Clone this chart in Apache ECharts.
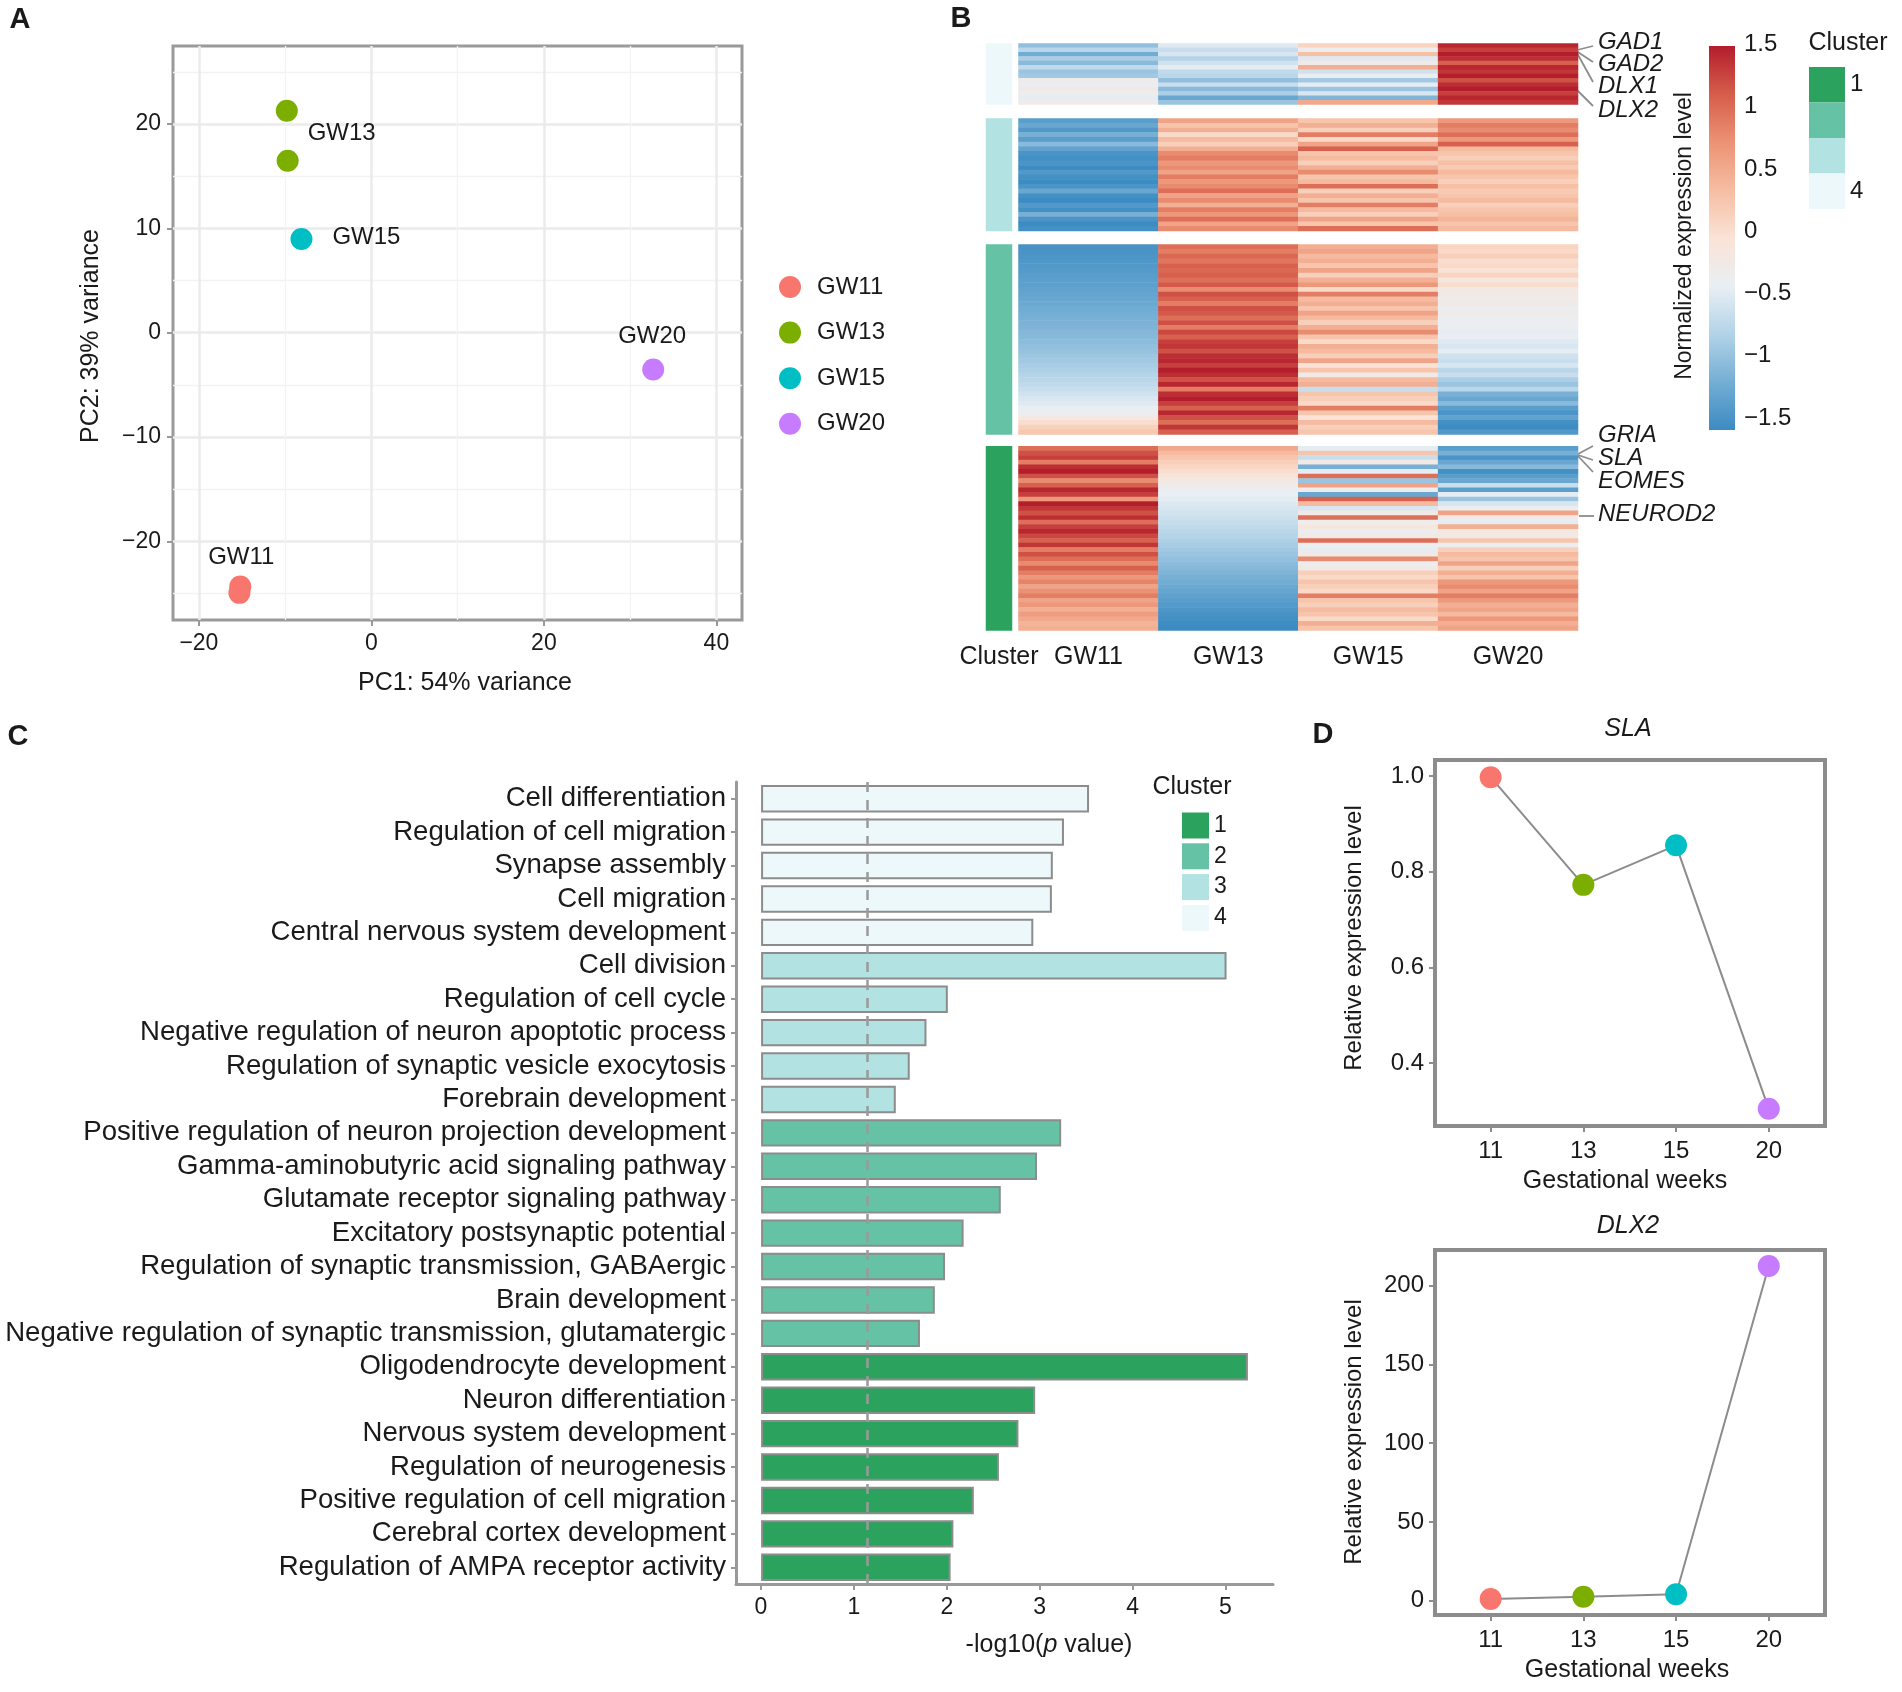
<!DOCTYPE html>
<html><head><meta charset="utf-8">
<script src="https://cdn.jsdelivr.net/npm/echarts@6/dist/echarts.min.js"></script>
<style>html,body{margin:0;padding:0;background:#fff}#chart{width:1902px;height:1692px}</style>
</head><body><div id="chart"></div>
<script>
// ================= DATA =================
const groups = ['GW11', 'GW13', 'GW15', 'GW20'];
const groupColors = ['#F8766D', '#7CAE00', '#00BFC4', '#C77CFF'];
const clusterNames = ['1', '2', '3', '4'];
const clusterColors = ['#2CA25F', '#66C2A4', '#B2E2E2', '#EDF8FB'];

// Panel A: PCA (PC1, PC2)
const pcaGW11 = [[-15.2, -24.3], [-15.3, -24.9]];
const pcaGW13 = [[-9.8, 21.3], [-9.7, 16.5]];
const pcaGW15 = [[-8.1, 9.0]];
const pcaGW20 = [[32.7, -3.5]];

// Panel B: heatmap, normalized expression (rows top->bottom) per cluster block
const c4_GW11 = [-0.95, -0.7, -1.15, -0.8, -1.0, -0.65, -0.9, -0.85, -0.25, -0.35, -0.2, -0.3, -0.4, -0.25];
const c4_GW13 = [-0.45, -0.6, -0.5, -0.75, -0.55, -0.4, -0.65, -0.7, -0.95, -0.6, -1.0, -0.8, -1.2, -0.9];
const c4_GW15 = [0.15, -0.3, 0.35, -0.45, -0.2, 0.5, -0.55, -0.3, -0.85, -0.4, -0.9, -0.5, -1.05, 0.55];
const c4_GW20 = [1.45, 1.3, 1.5, 1.4, 1.1, 1.45, 1.35, 1.5, 1.2, 1.4, 1.5, 1.3, 1.45, 1.35];

const c3_GW11 = [-1.3, -1.2, -1.35, -1.1, -1.3, -1.0, -1.25, -1.4, -1.45, -1.4, -1.5, -1.35, -1.45, -1.5, -1.4, -1.2, -1.45, -1.5, -1.35, -1.45, -1.1, -1.4, -1.5, -1.45];
const c3_GW13 = [0.6, 0.3, 0.5, 0.1, 0.4, 0.2, 0.5, 0.8, 0.9, 0.7, 0.8, 0.6, 0.9, 0.7, 0.8, 1.0, 0.6, 0.8, 0.5, 0.9, 0.7, 1.0, 0.6, 0.8];
const c3_GW15 = [0.3, 0.5, 0.2, 0.9, 0.1, 0.6, 1.1, 0.3, 0.4, 0.2, 0.5, 0.8, 0.3, 0.4, 1.0, 0.2, 0.5, 0.3, 0.9, 0.4, 0.2, 0.6, 0.3, 1.0];
const c3_GW20 = [0.7, 0.9, 0.8, 1.0, 0.7, 1.1, 0.4, 0.3, 0.2, 0.35, 0.25, 0.4, 0.3, 0.2, 0.35, 0.25, 0.3, 0.4, 0.2, 0.3, 0.35, 0.45, 0.3, 0.4];

const c2_GW11 = [-1.42, -1.41, -1.39, -1.37, -1.35, -1.33, -1.31, -1.29, -1.27, -1.25, -1.23, -1.2, -1.18, -1.15, -1.13, -1.11, -1.08, -1.06, -1.03, -1.01, -0.98, -0.95, -0.92, -0.88, -0.85, -0.81, -0.78, -0.74, -0.7, -0.65, -0.6, -0.55, -0.5, -0.45, -0.38, -0.3, -0.15, 0.05, 0.18, 0.28];
const c2_GW13 = [1.0, 0.9, 1.05, 0.95, 1.1, 1.05, 1.1, 1.0, 1.15, 0.8, 1.2, 1.1, 0.9, 1.2, 1.15, 1.0, 1.2, 0.9, 1.25, 1.1, 1.3, 1.35, 1.2, 1.4, 1.45, 1.3, 1.5, 1.4, 1.2, 1.45, 0.9, 1.4, 1.5, 1.3, 1.1, 1.45, 1.2, 1.0, 1.35, 1.1];
const c2_GW15 = [0.5, 0.6, 0.4, 0.5, 0.3, 0.6, 0.2, 0.5, 0.7, 0.1, 0.9, 0.4, 0.5, 0.3, 0.6, 0.4, 0.2, 0.5, 0.8, 0.3, 0.1, 0.5, 0.4, 0.2, 0.6, 0.0, 0.3, -0.2, 0.4, 0.5, -0.6, 0.3, 0.2, 0.1, 0.9, 0.3, 0.0, 0.4, 0.2, 0.3];
const c2_GW20 = [0.15, 0.1, 0.2, 0.05, 0.1, 0.0, 0.15, -0.1, 0.05, -0.2, -0.15, -0.25, -0.2, -0.3, -0.25, -0.3, -0.35, -0.3, -0.4, -0.35, -0.45, -0.5, -0.4, -0.55, -0.6, -0.5, -0.7, -0.6, -0.8, -0.9, -0.7, -1.1, -1.2, -1.0, -1.3, -1.4, -1.25, -1.45, -1.5, -1.35];

const c1_GW11 = [1.0, 1.2, 1.3, 0.9, 1.4, 1.5, 1.2, 0.8, 1.1, 1.45, 1.3, 0.7, 1.5, 1.35, 1.2, 1.4, 1.0, 1.3, 1.45, 1.25, 1.1, 1.35, 0.9, 1.2, 1.0, 0.8, 1.1, 0.9, 0.7, 0.85, 0.6, 0.75, 0.9, 0.6, 0.7, 0.5, 0.65, 0.55, 0.45, 0.5];
const c1_GW13 = [0.55, 0.4, 0.3, 0.2, 0.12, 0.05, -0.05, -0.15, -0.25, -0.32, -0.37, -0.42, -0.46, -0.5, -0.54, -0.58, -0.62, -0.66, -0.7, -0.74, -0.78, -0.82, -0.86, -0.9, -0.94, -0.98, -1.02, -1.06, -1.1, -1.14, -1.18, -1.22, -1.26, -1.3, -1.34, -1.38, -1.42, -1.45, -1.48, -1.5];
const c1_GW15 = [-0.4, 0.3, -0.6, -0.2, -1.1, -0.4, 1.0, -0.9, 0.6, -0.3, -1.2, 1.1, 0.4, -0.5, -0.2, 1.0, -0.3, -0.1, -0.3, -0.2, 1.0, -0.3, -0.4, -0.2, 0.8, -0.3, -0.2, 0.2, 0.1, 0.3, 0.2, 0.1, 0.9, 0.3, 0.2, 0.4, 0.3, 0.1, 0.5, 0.3];
const c1_GW20 = [-1.3, -1.1, -1.4, -1.2, -1.0, -1.45, -1.3, -1.2, -0.6, -1.3, -0.4, -0.9, -0.5, -0.3, 0.6, -0.2, -0.4, 0.5, -0.1, -0.2, 0.3, -0.3, 0.2, 0.4, 0.3, 0.6, 0.2, 0.5, 0.3, 0.7, 0.8, 0.6, 0.9, 0.7, 0.5, 0.6, 0.4, 0.7, 0.5, 0.6];

const heatColors = ['#3C8BC2', '#74AED4', '#B3D3E8', '#E9EFF4', '#FAE3D6', '#F6BDA2', '#EC9274', '#D65D4B', '#B31D2C']; // -1.5 .. 1.5
const geneLabelsTop = ['GAD1', 'GAD2', 'DLX1', 'DLX2'];
const geneLabelsBottom = ['GRIA', 'SLA', 'EOMES', 'NEUROD2'];

// Panel C: GO enrichment
const goTerms = ['Cell differentiation', 'Regulation of cell migration', 'Synapse assembly', 'Cell migration', 'Central nervous system development',
  'Cell division', 'Regulation of cell cycle', 'Negative regulation of neuron apoptotic process', 'Regulation of synaptic vesicle exocytosis', 'Forebrain development',
  'Positive regulation of neuron projection development', 'Gamma-aminobutyric acid signaling pathway', 'Glutamate receptor signaling pathway', 'Excitatory postsynaptic potential', 'Regulation of synaptic transmission, GABAergic', 'Brain development', 'Negative regulation of synaptic transmission, glutamatergic',
  'Oligodendrocyte development', 'Neuron differentiation', 'Nervous system development', 'Regulation of neurogenesis', 'Positive regulation of cell migration', 'Cerebral cortex development', 'Regulation of AMPA receptor activity'];
const goValues = [3.53, 3.26, 3.14, 3.13, 2.93, 5.01, 2.01, 1.78, 1.60, 1.45, 3.23, 2.97, 2.58, 2.18, 1.98, 1.87, 1.71, 5.24, 2.95, 2.77, 2.56, 2.29, 2.07, 2.04];
const goCluster = [4, 4, 4, 4, 4, 3, 3, 3, 3, 3, 2, 2, 2, 2, 2, 2, 2, 1, 1, 1, 1, 1, 1, 1];
const thresholdLine = 1.14;

// Panel D
const weekLabels = ['11', '13', '15', '20'];
const slaValues = [1.0, 0.774, 0.857, 0.304];
const dlx2Values = [1.1, 2.5, 4.1, 212.5];

// ================= BUILD =================
const FONT = "'Liberation Sans', Arial, Helvetica, sans-serif";
const TXT = '#1a1a1a';
const GREY = '#999999';
const minusFmt = v => (v < 0 ? '\u2212' : '') + Math.abs(v);

const grids = [], xAxes = [], yAxes = [], series = [];
function addGrid(rect, xa, ya) {
  const i = grids.length;
  grids.push(Object.assign({ show: false }, rect));
  xAxes.push(Object.assign({ gridIndex: i }, xa));
  yAxes.push(Object.assign({ gridIndex: i }, ya));
  return i;
}
const hid = () => ({ type: 'value', min: 0, max: 1, show: false });

// ---------- Panel A ----------
const gA = addGrid({ left: 173, top: 46, width: 569, height: 574, show: true, borderColor: '#9a9a9a', borderWidth: 3, backgroundColor: 'transparent' },
  { type: 'value', min: -23, max: 43, show: false }, { type: 'value', min: -27.5, max: 27.5, show: false });
addGrid({ left: 198.9, top: 46, width: 517.5, height: 574 },
  { type: 'value', min: -20, max: 40, interval: 20, position: 'bottom',
    axisLine: { show: false, onZero: false }, axisTick: { show: true, length: 6, lineStyle: { color: GREY, width: 2 } },
    axisLabel: { fontSize: 23, color: TXT, margin: 12, formatter: minusFmt },
    splitLine: { show: true, lineStyle: { color: '#EBEBEB', width: 2.5 } },
    minorTick: { show: false, splitNumber: 2 },
    minorSplitLine: { show: true, lineStyle: { color: '#F3F3F3', width: 1.3 } } }, hid());
addGrid({ left: 173, top: 71.9, width: 569, height: 521.6 }, hid(),
  { type: 'value', min: -25, max: 25, interval: 50, axisLine: { show: false, onZero: false }, axisTick: { show: false }, axisLabel: { show: false },
    splitLine: { show: true, lineStyle: { color: '#F3F3F3', width: 1.3 } } });
addGrid({ left: 173, top: 124, width: 569, height: 417.3 }, hid(),
  { type: 'value', min: -20, max: 20, interval: 10,
    axisLine: { show: false, onZero: false }, axisTick: { show: true, length: 6, lineStyle: { color: GREY, width: 2 } },
    axisLabel: { fontSize: 23, color: TXT, margin: 12, formatter: minusFmt },
    splitLine: { show: true, lineStyle: { color: '#EBEBEB', width: 2.5 } },
    minorTick: { show: false, splitNumber: 2 },
    minorSplitLine: { show: true, lineStyle: { color: '#F3F3F3', width: 1.3 } } });

const pcaSets = [pcaGW11, pcaGW13, pcaGW15, pcaGW20];
const pcaLabelIdx = [0, 1, 0, 0];
const pcaLabelOff = [[1, -29], [54, -27], [65, -2], [-1, -33]];
pcaSets.forEach((set, k) => {
  series.push({
    type: 'scatter', name: groups[k], xAxisIndex: gA, yAxisIndex: gA, symbolSize: 22,
    itemStyle: { color: groupColors[k], opacity: 1 },
    data: set.map((p, j) => ({
      value: p,
      label: j === pcaLabelIdx[k] ? { show: true, position: 'inside', offset: pcaLabelOff[k], formatter: groups[k], fontSize: 24, color: TXT } : { show: false }
    }))
  });
});

// ---------- Panel B ----------
const heatBlocks = [
  { cluster: 4, cols: [c4_GW11, c4_GW13, c4_GW15, c4_GW20], top: 43.5, h: 61 },
  { cluster: 3, cols: [c3_GW11, c3_GW13, c3_GW15, c3_GW20], top: 118.5, h: 112.5 },
  { cluster: 2, cols: [c2_GW11, c2_GW13, c2_GW15, c2_GW20], top: 244.5, h: 190 },
  { cluster: 1, cols: [c1_GW11, c1_GW13, c1_GW15, c1_GW20], top: 446.3, h: 184.2 }
];
const heatSeriesIdx = [];
heatBlocks.forEach((b, bi) => {
  const last = bi === heatBlocks.length - 1;
  const n = b.cols[0].length;
  const rows = Array.from({ length: n }, (_, i) => 'r' + i);
  const gi = addGrid({ left: 1018.5, top: b.top, width: 559.5, height: b.h },
    { type: 'category', data: groups, show: last, axisLine: { show: false }, axisTick: { show: false },
      axisLabel: { fontSize: 25, color: TXT, margin: 14 }, splitLine: { show: false } },
    { type: 'category', data: rows, inverse: true, show: false });
  const data = [];
  b.cols.forEach((col, c) => col.forEach((v, r) => data.push([c, r, v])));
  heatSeriesIdx.push(series.length);
  series.push({ type: 'heatmap', xAxisIndex: gi, yAxisIndex: gi, data, emphasis: { disabled: true } });
  const ga = addGrid({ left: 986, top: b.top, width: 26, height: b.h },
    { type: 'category', data: ['Cluster'], show: last, axisLine: { show: false }, axisTick: { show: false },
      axisLabel: { fontSize: 25, color: TXT, margin: 14 } },
    { type: 'category', data: ['c'], show: false });
  series.push({ type: 'heatmap', name: String(b.cluster), xAxisIndex: ga, yAxisIndex: ga,
    data: [[0, 0, b.cluster]], itemStyle: { color: clusterColors[b.cluster - 1] }, emphasis: { disabled: true } });
});
// colorbar tick axis
addGrid({ left: 1709, top: 44.5, width: 26, height: 373.5 }, hid(),
  { type: 'value', position: 'right', min: -1.5, max: 1.5, interval: 0.5, axisLine: { show: false, onZero: false }, axisTick: { show: false },
    splitLine: { show: false }, axisLabel: { fontSize: 24, color: TXT, margin: 9, formatter: minusFmt } });

// ---------- Panel C ----------
const gC = addGrid({ left: 736, top: 782, width: 537, height: 802 },
  { type: 'value', min: -0.27, max: 5.51, axisLine: { show: true, onZero: false, lineStyle: { color: GREY, width: 3 } },
    axisTick: { show: false }, axisLabel: { show: false }, splitLine: { show: false } },
  { type: 'category', data: goTerms, inverse: true,
    axisLine: { show: true, onZero: false, lineStyle: { color: GREY, width: 3 } },
    axisTick: { show: true, alignWithLabel: true, interval: 0, length: 5, lineStyle: { color: GREY, width: 2 } },
    axisLabel: { fontSize: 27.6, color: TXT, margin: 10, interval: 0 } });
addGrid({ left: 761, top: 782, width: 464.5, height: 802 },
  { type: 'value', min: 0, max: 5, interval: 1, axisLine: { show: false, onZero: false },
    axisTick: { show: true, length: 6, lineStyle: { color: GREY, width: 2 } },
    axisLabel: { fontSize: 23, color: TXT, margin: 12 }, splitLine: { show: false } }, hid());
[1, 2, 3, 4].forEach((c, k) => {
  const s = {
    type: 'bar', name: String(c), xAxisIndex: gC, yAxisIndex: gC, barGap: '-100%', barCategoryGap: '18%',
    itemStyle: { color: clusterColors[c - 1], borderColor: '#8c8c8c', borderWidth: 2 },
    emphasis: { disabled: true },
    data: goValues.map((v, i) => goCluster[i] === c ? v : '-')
  };
  if (k === 3) {
    s.markLine = { silent: true, symbol: ['none', 'none'], label: { show: false },
      lineStyle: { type: [10, 8], color: '#9a9a9a', width: 2.5 }, data: [{ xAxis: thresholdLine }] };
  }
  series.push(s);
});

// ---------- Panel D ----------
function addLinePanel(top, h, yMin, yMax, lblTop, lblH, lMin, lMax, lInt, vals, fmt, name) {
  addGrid({ left: 1435, top, width: 390, height: h, show: true, borderColor: '#8c8c8c', borderWidth: 4, backgroundColor: 'transparent' }, hid(), hid());
  const g = addGrid({ left: 1444.3, top, width: 370.8, height: h },
    { type: 'category', data: weekLabels, boundaryGap: true, position: 'bottom', axisLine: { show: false, onZero: false },
      axisTick: { show: true, alignWithLabel: true, length: 6, lineStyle: { color: '#8c8c8c', width: 2 } },
      axisLabel: { fontSize: 24, color: TXT, margin: 13 } },
    { type: 'value', min: yMin, max: yMax, show: false });
  addGrid({ left: 1435, top: lblTop, width: 390, height: lblH }, hid(),
    { type: 'value', min: lMin, max: lMax, interval: lInt, axisLine: { show: false, onZero: false }, splitLine: { show: false },
      axisTick: { show: true, length: 6, lineStyle: { color: '#8c8c8c', width: 2 } },
      axisLabel: { fontSize: 24, color: TXT, margin: 11, formatter: fmt } });
  series.push({
    type: 'line', name, xAxisIndex: g, yAxisIndex: g, symbol: 'circle', symbolSize: 22,
    lineStyle: { color: '#8c8c8c', width: 2 },
    data: vals.map((v, i) => ({ value: v, itemStyle: { color: groupColors[i] } }))
  });
}
addLinePanel(760, 366, 0.268, 1.036, 776, 287, 0.4, 1.0, 0.2, slaValues, v => v.toFixed(1), 'SLA');
addLinePanel(1250, 365, -9.1, 222.7, 1285.7, 315, 0, 200, 50, dlx2Values, v => String(v), 'DLX2');

// ---------- graphics ----------
const txt = (x, y, text, o = {}) => ({
  type: 'text', x, y, rotation: o.rot || 0, silent: true,
  style: Object.assign({ text, fontSize: o.size || 25, fontFamily: FONT, fill: TXT, align: o.align || 'center', verticalAlign: 'middle',
    fontStyle: o.italic ? 'italic' : 'normal', fontWeight: o.bold ? 'bold' : 'normal' }, o.rich ? { rich: o.rich } : {})
});
const line = (x1, y1, x2, y2) => ({ type: 'line', silent: true, shape: { x1, y1, x2, y2 }, style: { stroke: '#8c8c8c', lineWidth: 1.8 } });
const elements = [
  txt(20, 20, 'A', { bold: true, size: 29 }),
  txt(961, 19, 'B', { bold: true, size: 29 }),
  txt(18, 737, 'C', { bold: true, size: 29 }),
  txt(1323, 735, 'D', { bold: true, size: 29 }),
  txt(465, 683, 'PC1: 54% variance'),
  txt(91, 336, 'PC2: 39% variance', { rot: Math.PI / 2 }),
  // colorbar
  { type: 'rect', silent: true, shape: { x: 1709, y: 46, width: 26, height: 384 },
    style: { fill: { type: 'linear', x: 0, y: 0, x2: 0, y2: 1, colorStops: heatColors.slice().reverse().map((c, i, a) => ({ offset: i / (a.length - 1), color: c })) } } },
  txt(1685, 236, 'Normalized expression level', { rot: Math.PI / 2, size: 23 }),
  txt(1848, 43, 'Cluster'),
  // gene labels
  line(1577, 50, 1593, 46), line(1577, 51.5, 1593, 62), line(1577, 53, 1593, 82), line(1577, 90, 1593, 106),
  line(1578, 454, 1593, 446), line(1578, 455, 1593, 460), line(1578, 456, 1593, 472), line(1579, 516, 1594, 516),
  txt(1598, 42, geneLabelsTop[0], { italic: true, align: 'left', size: 24 }),
  txt(1598, 64, geneLabelsTop[1], { italic: true, align: 'left', size: 24 }),
  txt(1598, 86, geneLabelsTop[2], { italic: true, align: 'left', size: 24 }),
  txt(1598, 110, geneLabelsTop[3], { italic: true, align: 'left', size: 24 }),
  txt(1598, 435, geneLabelsBottom[0], { italic: true, align: 'left', size: 24 }),
  txt(1598, 458, geneLabelsBottom[1], { italic: true, align: 'left', size: 24 }),
  txt(1598, 481, geneLabelsBottom[2], { italic: true, align: 'left', size: 24 }),
  txt(1598, 514, geneLabelsBottom[3], { italic: true, align: 'left', size: 24 }),
  // panel C
  txt(1049, 1645, '-log10({i|p} value)', { rich: { i: { fontStyle: 'italic', fontSize: 25, fontFamily: FONT, fill: TXT } } }),
  txt(1192, 787, 'Cluster'),
  // panel D
  txt(1628, 729, 'SLA', { italic: true }),
  txt(1628, 1226, 'DLX2', { italic: true }),
  txt(1625, 1181, 'Gestational weeks'),
  txt(1627, 1670, 'Gestational weeks'),
  txt(1354, 938, 'Relative expression level', { rot: Math.PI / 2, size: 24 }),
  txt(1354, 1432, 'Relative expression level', { rot: Math.PI / 2, size: 24 })
];

const option = {
  animation: false,
  backgroundColor: '#ffffff',
  textStyle: { fontFamily: FONT },
  grid: grids, xAxis: xAxes, yAxis: yAxes, series,
  visualMap: { type: 'continuous', show: false, min: -1.5, max: 1.5, dimension: 2, seriesIndex: heatSeriesIdx, inRange: { color: heatColors } },
  legend: [
    { data: groups, orient: 'vertical', left: 774, top: 270, itemWidth: 44, itemHeight: 22, itemGap: 21.6, icon: 'circle',
      selectedMode: false, textStyle: { fontSize: 24, color: TXT, lineHeight: 24 } },
    { data: clusterNames, orient: 'vertical', left: 1804, top: 62, itemWidth: 36, itemHeight: 35.5, itemGap: 0, icon: 'rect',
      selectedMode: false, itemStyle: { borderWidth: 0 }, formatter: n => (n === '1' || n === '4') ? n : '',
      textStyle: { fontSize: 24, color: TXT, lineHeight: 30 } },
    { data: clusterNames, orient: 'vertical', left: 1177, top: 807.5, itemWidth: 27, itemHeight: 26, itemGap: 4.8, icon: 'rect',
      selectedMode: false, itemStyle: { borderWidth: 0 }, textStyle: { fontSize: 23, color: TXT, lineHeight: 26 } }
  ],
  graphic: { elements }
};
const chart = echarts.init(document.getElementById('chart'), null, { renderer: 'canvas' });
chart.setOption(option);
</script>
</body></html>
